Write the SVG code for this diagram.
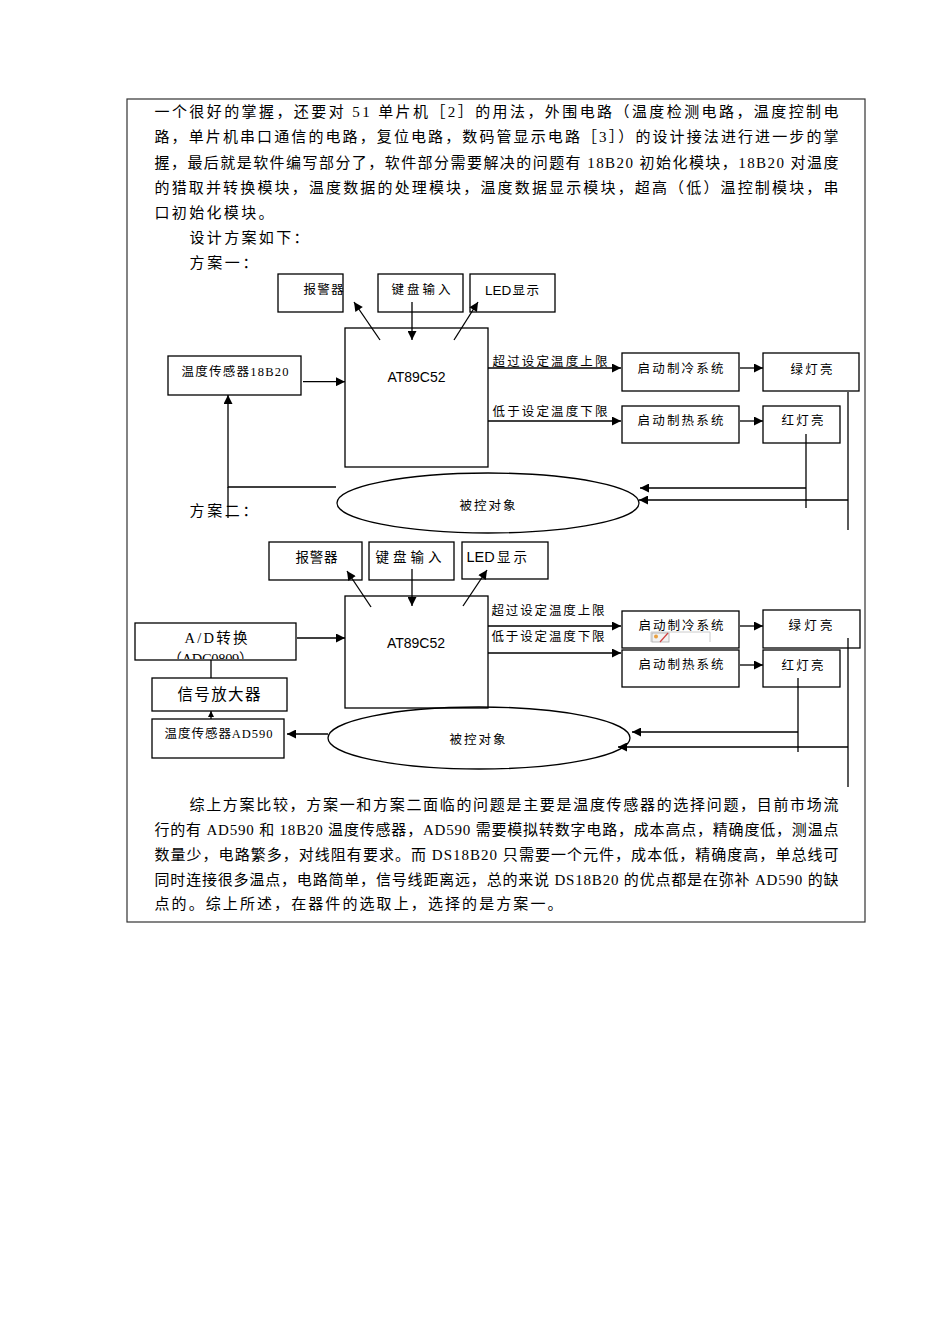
<svg xmlns="http://www.w3.org/2000/svg" width="950" height="1344" viewBox="0 0 950 1344">
<style>
.body{font-family:"Liberation Serif","Noto Sans CJK SC",serif;font-size:15px;fill:#000}
.lbl{font-family:"Liberation Serif","Noto Sans CJK SC",serif;font-size:12.5px;fill:#000}
.lbl2{font-family:"Liberation Serif","Noto Sans CJK SC",serif;font-size:13.5px;fill:#000}
.big{font-size:14.5px}
.amp{font-size:15.5px}
.sans{font-family:"Liberation Sans","Noto Sans CJK SC",sans-serif}
.mcu{font-family:"Liberation Sans",sans-serif;font-size:14px;fill:#000}
.box{fill:#fff;stroke:#000;stroke-width:1.3}
.ln{stroke:#000;stroke-width:1.3;fill:none}
.arr{marker-end:url(#ah)}
.arrs{marker-end:url(#ahs)}
</style>
<defs>
<marker id="ah" viewBox="0 0 10 10" refX="10" refY="5" markerWidth="10" markerHeight="9" markerUnits="userSpaceOnUse" orient="auto"><path d="M0,0 L10,5 L0,10 z" fill="#000"/></marker>
<marker id="ahs" viewBox="0 0 10 10" refX="10" refY="5" markerWidth="6" markerHeight="6" markerUnits="userSpaceOnUse" orient="auto"><path d="M0,0 L10,5 L0,10 z" fill="#000"/></marker>
<clipPath id="adclip"><rect x="136" y="624" width="159" height="35"/></clipPath>
</defs>
<rect width="950" height="1344" fill="#fff"/>
<rect x="127" y="99" width="738" height="823" fill="none" stroke="#333" stroke-width="1.2"/>

<g id="text-top" class="body">
<text x="154.5" y="116.5" textLength="684" lengthAdjust="spacing">一个很好的掌握，还要对 51 单片机［2］的用法，外围电路（温度检测电路，温度控制电</text>
<text x="154.5" y="142" textLength="684" lengthAdjust="spacing">路，单片机串口通信的电路，复位电路，数码管显示电路［3］）的设计接法进行进一步的掌</text>
<text x="154.5" y="167.5" textLength="684" lengthAdjust="spacing">握，最后就是软件编写部分了，软件部分需要解决的问题有 18B20 初始化模块，18B20 对温度</text>
<text x="154.5" y="192.5" textLength="684" lengthAdjust="spacing">的猎取并转换模块，温度数据的处理模块，温度数据显示模块，超高（低）温控制模块，串</text>
<text x="154.5" y="217.5" textLength="119" lengthAdjust="spacing">口初始化模块。</text>
<text x="189.5" y="243" textLength="119" lengthAdjust="spacing">设计方案如下：</text>
<text x="189.5" y="268" textLength="68" lengthAdjust="spacing">方案一：</text>
<text x="189.5" y="516" textLength="68" lengthAdjust="spacing">方案二：</text>
</g>

<g id="labels1" class="lbl">
<text x="492.5" y="366" textLength="115" lengthAdjust="spacing">超过设定温度上限</text>
<text x="492.5" y="416" textLength="115" lengthAdjust="spacing">低于设定温度下限</text>
</g>

<g id="alarm1"><rect class="box" x="278" y="274" width="65" height="38"/><text class="lbl" x="303.5" y="293.5" textLength="40" lengthAdjust="spacing">报警器</text></g>
<g id="key1"><rect class="box" x="378" y="274" width="85" height="38"/><text class="lbl" x="391.5" y="293.5" textLength="59" lengthAdjust="spacing">键盘输入</text></g>
<g id="led1"><rect class="box" x="470" y="274" width="85" height="38"/><text class="lbl" y="295"><tspan class="sans" x="485" font-size="13.5">LED</tspan><tspan x="512.5" letter-spacing="1.5">显示</tspan></text></g>
<g id="mcu1"><rect class="box" x="345" y="328" width="143" height="139"/><text class="mcu" x="416.5" y="382" text-anchor="middle">AT89C52</text></g>
<g id="sensor1"><rect class="box" x="168" y="356" width="133" height="39"/><text class="lbl" x="181.5" y="375.5" textLength="107" lengthAdjust="spacing">温度传感器18B20</text></g>
<g id="cool1"><rect class="box" x="622" y="353" width="117" height="38"/><text class="lbl" x="637.5" y="372.5" textLength="86" lengthAdjust="spacing">启动制冷系统</text></g>
<g id="green1"><rect class="box" x="763" y="353" width="96" height="38"/><text class="lbl" x="790.5" y="373.5" textLength="42" lengthAdjust="spacing">绿灯亮</text></g>
<g id="heat1"><rect class="box" x="622" y="406" width="117" height="37"/><text class="lbl" x="637.5" y="424.5" textLength="86" lengthAdjust="spacing">启动制热系统</text></g>
<g id="red1"><rect class="box" x="763" y="406" width="77" height="37"/><text class="lbl" x="781.5" y="424.5" textLength="42" lengthAdjust="spacing">红灯亮</text></g>
<g id="obj1"><ellipse cx="488" cy="503" rx="151" ry="30" fill="none" stroke="#000" stroke-width="1.3"/><text class="lbl" x="459.5" y="509.5" textLength="56" lengthAdjust="spacing">被控对象</text></g>

<g id="labels2" class="lbl">
<text x="491.5" y="614.5" textLength="113" lengthAdjust="spacing">超过设定温度上限</text>
<text x="491.5" y="640.5" textLength="113" lengthAdjust="spacing">低于设定温度下限</text>
</g>

<g id="alarm2"><rect class="box" x="269" y="542" width="93" height="38"/><text class="lbl2" x="295.5" y="561.5" textLength="42" lengthAdjust="spacing">报警器</text></g>
<g id="key2"><rect class="box" x="369" y="542" width="85" height="38"/><text class="lbl2" x="375.5" y="561.5" textLength="66" lengthAdjust="spacing">键盘输入</text></g>
<g id="led2"><rect class="box" x="462" y="542" width="86" height="37"/><text class="lbl2" y="562"><tspan class="sans" x="466.5" font-size="14.5">LED</tspan><tspan x="497" letter-spacing="3">显示</tspan></text></g>
<g id="mcu2"><rect class="box" x="345" y="596" width="143" height="112"/><text class="mcu" x="416" y="648" text-anchor="middle">AT89C52</text></g>
<g id="ad"><rect class="box" x="135" y="623" width="161" height="37"/><text class="lbl big" x="184.5" y="643" textLength="63" lengthAdjust="spacing">A/D转换</text><text class="lbl big" clip-path="url(#adclip)" x="167.5" y="664" textLength="86" lengthAdjust="spacing">（ADC0809）</text></g>
<g id="amp"><rect class="box" x="152" y="678" width="135" height="33"/><text class="lbl amp" x="177.5" y="699.5" textLength="83" lengthAdjust="spacing">信号放大器</text></g>
<g id="sensor2"><rect class="box" x="152" y="719" width="132" height="39"/><text class="lbl" x="164.5" y="738" textLength="108" lengthAdjust="spacing">温度传感器AD590</text></g>
<g id="cool2"><rect class="box" x="622" y="611" width="117" height="37"/><text class="lbl" x="638.5" y="630" textLength="85" lengthAdjust="spacing">启动制冷系统</text>
<g id="broken-img"><path d="M651,642 L651,632 L710,632 L710,642" fill="none" stroke="#ccc" stroke-width="1"/><rect x="652" y="633" width="17" height="9" fill="#f2f2f2" stroke="#aaa" stroke-width="0.8"/><circle cx="656" cy="636.5" r="2" fill="#e8a040"/><path d="M660,642 L668,633" stroke="#d04040" stroke-width="1.2"/></g></g>
<g id="green2"><rect class="box" x="763" y="610" width="97" height="38"/><text class="lbl" x="788.5" y="630" textLength="44" lengthAdjust="spacing">绿灯亮</text></g>
<g id="heat2"><rect class="box" x="622" y="650" width="117" height="37"/><text class="lbl" x="638.5" y="669" textLength="85" lengthAdjust="spacing">启动制热系统</text></g>
<g id="red2"><rect class="box" x="763" y="650" width="77" height="37"/><text class="lbl" x="781.5" y="669.5" textLength="42" lengthAdjust="spacing">红灯亮</text></g>
<g id="obj2"><ellipse cx="479" cy="738" rx="151" ry="31" fill="none" stroke="#000" stroke-width="1.3"/><text class="lbl" x="449.5" y="744" textLength="56" lengthAdjust="spacing">被控对象</text></g>

<g id="connectors" class="ln">
<path class="arr" d="M380,340 L354,302"/>
<path class="arr" d="M412,302 L412,340"/>
<path class="arr" d="M454,340 L478,302"/>
<path class="arr" d="M303,381.7 L345,381.7"/>
<path class="arr" d="M488,368 L621,368"/>
<path class="arr" d="M488,421 L621,421"/>
<path class="arr" d="M740,368 L763,368"/>
<path class="arr" d="M740,421 L763,421"/>
<path d="M806,434 L806,508"/>
<path class="arr" d="M806,488 L640,488"/>
<path d="M848,392 L848,530"/>
<path class="arr" d="M848,500 L639,500"/>
<path class="arr" d="M336,487 L228,487 L228,395"/>
<path d="M228,487 L228,518"/>

<path class="arr" d="M371,607 L347,571"/>
<path class="arr" d="M412,569 L412,606"/>
<path class="arr" d="M463,606 L487,570"/>
<path class="arr" d="M297,638 L345,638"/>
<path class="arr" d="M488,626 L621,626"/>
<path class="arr" d="M488,653 L621,653"/>
<path class="arr" d="M740,626 L763,626"/>
<path class="arr" d="M740,665 L763,665"/>
<path d="M798,678 L798,752"/>
<path class="arr" d="M798,732 L632,732"/>
<path d="M848,638 L848,787"/>
<path class="arr" d="M848,747 L618,747"/>
<path class="arr" d="M328,734 L287,734"/>
<path d="M211,660 L211,678"/>
<path class="arrs" d="M211,719 L211,711"/>
</g>

<g id="text-bottom" class="body">
<text x="189.5" y="809.5" textLength="649" lengthAdjust="spacing">综上方案比较，方案一和方案二面临的问题是主要是温度传感器的选择问题，目前市场流</text>
<text x="154.5" y="834.5" textLength="684" lengthAdjust="spacing">行的有 AD590 和 18B20 温度传感器，AD590 需要模拟转数字电路，成本高点，精确度低，测温点</text>
<text x="154.5" y="859.5" textLength="684" lengthAdjust="spacing">数量少，电路繁多，对线阻有要求。而 DS18B20 只需要一个元件，成本低，精确度高，单总线可</text>
<text x="154.5" y="884.5" textLength="684" lengthAdjust="spacing">同时连接很多温点，电路简单，信号线距离远，总的来说 DS18B20 的优点都是在弥补 AD590 的缺</text>
<text x="154.5" y="908.5" textLength="408" lengthAdjust="spacing">点的。综上所述，在器件的选取上，选择的是方案一。</text>
</g>
</svg>
